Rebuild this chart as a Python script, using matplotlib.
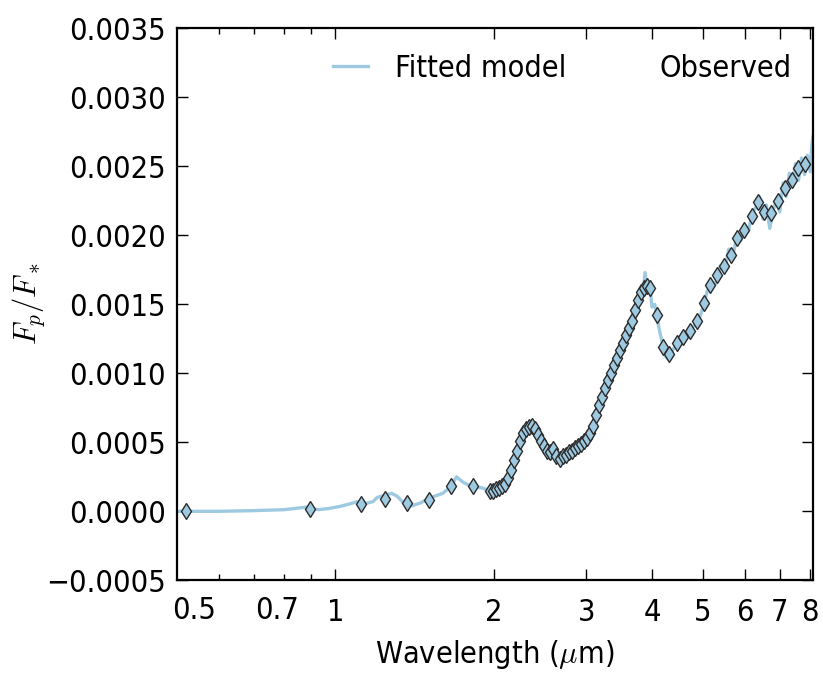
import numpy as np
import matplotlib
matplotlib.use('Agg')
import matplotlib.pyplot as plt
from matplotlib.lines import Line2D
from matplotlib.ticker import FixedLocator, NullFormatter, FuncFormatter
from matplotlib import transforms

plt.rcParams['font.family'] = ['DejaVu Sans']
plt.rcParams['font.stretch'] = 'condensed'
plt.rcParams['mathtext.fontset'] = 'cm'

# Fitted model spectrum (wavelength in micron, planet/star flux ratio)
model_wl = [0.50, 0.55, 0.60, 0.70, 0.80, 0.88, 0.90, 0.93, 0.97, 1.02, 1.08, 1.10,
            1.12, 1.18, 1.20, 1.25, 1.28, 1.31, 1.35, 1.40, 1.45, 1.52, 1.60, 1.66,
            1.70, 1.75, 1.82, 1.90, 1.97, 2.02, 2.07, 2.10, 2.13, 2.16, 2.19, 2.22,
            2.25, 2.28, 2.31, 2.34, 2.37, 2.40, 2.43, 2.46, 2.50, 2.53, 2.56, 2.60,
            2.63, 2.67, 2.71, 2.75, 2.80, 2.85, 2.90, 2.95, 3.00, 3.05, 3.10, 3.15,
            3.20, 3.25, 3.30, 3.35, 3.40, 3.45, 3.50, 3.55, 3.60, 3.65, 3.70, 3.75,
            3.80, 3.85, 3.88, 3.92, 3.96, 4.00, 4.05, 4.10, 4.15, 4.20, 4.25, 4.30,
            4.35, 4.40, 4.50, 4.60, 4.70, 4.80, 4.90, 5.00, 5.10, 5.20, 5.30, 5.40,
            5.50, 5.60, 5.70, 5.80, 5.90, 6.00, 6.10, 6.20, 6.30, 6.40, 6.50, 6.60,
            6.70, 6.80, 6.90, 7.00, 7.10, 7.20, 7.30, 7.40, 7.50, 7.60, 7.70, 7.80,
            7.90, 8.00, 8.05, 8.10]
model_fp = [0.0, 0.0, 0.0, 0.000005, 0.000012, 0.00003, 0.00002, 0.000012, 0.00002,
            0.000035, 0.00006, 0.00007, 0.00005, 0.00007, 0.0001, 0.00012, 0.00013,
            0.00011, 0.00006, 0.00004, 0.00006, 0.0001, 0.00013, 0.00018, 0.00025,
            0.00021, 0.00018, 0.00017, 0.00015, 0.00016, 0.00018, 0.00019, 0.00025,
            0.0003, 0.00038, 0.00045, 0.00053, 0.00058, 0.00062, 0.0006, 0.00064,
            0.00058, 0.00053, 0.0005, 0.00046, 0.00042, 0.00045, 0.0004, 0.00043,
            0.00036, 0.00041, 0.00041, 0.00044, 0.00046, 0.00047, 0.0005, 0.00052,
            0.00058, 0.00065, 0.00075, 0.0008, 0.0009, 0.00094, 0.001, 0.00108,
            0.0011, 0.0012, 0.00124, 0.00133, 0.00134, 0.00147, 0.0015, 0.0016,
            0.00158, 0.00173, 0.00158, 0.00165, 0.00148, 0.0015, 0.00138, 0.00128,
            0.0012, 0.00112, 0.0011, 0.00115, 0.00118, 0.00123, 0.00127, 0.0013,
            0.00134, 0.00137, 0.00148, 0.0016, 0.00166, 0.00165, 0.00178, 0.00175,
            0.0019, 0.00185, 0.00199, 0.00196, 0.00207, 0.00203, 0.00216, 0.0022,
            0.00228, 0.00212, 0.00222, 0.00205, 0.00218, 0.00226, 0.00217, 0.00238,
            0.00228, 0.00245, 0.00235, 0.00252, 0.0024, 0.00256, 0.00244, 0.00258,
            0.00246, 0.00265, 0.00272]

# Observed eclipse depths
obs_wl = [0.520, 0.896, 1.121, 1.245, 1.371, 1.504, 1.656, 1.824,
          1.965, 1.991, 2.018, 2.044, 2.071, 2.098, 2.126, 2.154, 2.183, 2.212,
          2.241, 2.270, 2.300, 2.331, 2.362, 2.393, 2.425, 2.457, 2.489, 2.522,
          2.556, 2.590, 2.624, 2.671, 2.706, 2.742, 2.779, 2.815, 2.853, 2.891,
          2.929, 2.968, 3.007, 3.047, 3.087, 3.128, 3.170, 3.212, 3.254, 3.297,
          3.341, 3.385, 3.430, 3.475, 3.521, 3.568, 3.615, 3.663, 3.711, 3.760,
          3.810, 3.861, 3.912, 3.963, 4.087, 4.197, 4.308, 4.462, 4.581, 4.724,
          4.872, 5.023, 5.157, 5.317, 5.483, 5.654, 5.805, 5.985, 6.200, 6.365,
          6.535, 6.740, 6.950, 7.167, 7.389, 7.586, 7.823]
obs_fp = [0.0, 0.00002, 0.00005, 0.00009, 0.00006, 0.00008, 0.00018, 0.00018,
          0.00015, 0.00015, 0.00016, 0.00017, 0.00018, 0.0002, 0.00024, 0.0003,
          0.00037, 0.00044, 0.00051, 0.00057, 0.0006, 0.00061, 0.00062, 0.0006,
          0.00055, 0.00051, 0.00047, 0.00044, 0.00043, 0.00045, 0.0004, 0.00038,
          0.0004, 0.00041, 0.00043, 0.00044, 0.00046, 0.00047, 0.00049, 0.00051,
          0.00053, 0.00057, 0.00062, 0.0007, 0.00077, 0.00083, 0.00089, 0.00095,
          0.001, 0.00106, 0.00111, 0.00117, 0.00122, 0.00128, 0.00133, 0.00138,
          0.00146, 0.00153, 0.00159, 0.00162, 0.00163, 0.00162, 0.00142, 0.00119,
          0.00114, 0.00122, 0.00126, 0.00131, 0.00138, 0.00151, 0.00164, 0.00171,
          0.00178, 0.00186, 0.00198, 0.00204, 0.00214, 0.00224, 0.00217, 0.00216,
          0.00225, 0.00234, 0.0024, 0.00249, 0.00252]

major_ticks = [1, 2, 3, 4, 5, 6, 7, 8]
minor_ticks = [0.6, 0.7, 0.8, 0.9]
y_ticks = np.arange(-0.0005, 0.00351, 0.0005)

fig = plt.figure(figsize=(8.23, 6.74), dpi=100)
ax = fig.add_axes([0.215, 0.139, 0.773, 0.819])

line_model, = ax.plot(model_wl, model_fp, color='#9ecae1', lw=2.4, zorder=2)
ax.plot(obs_wl, obs_fp, linestyle='none', marker='d', ms=8, mfc='#9ecae1',
        mec='#2b2b2b', mew=1.0, zorder=3)

ax.set_xscale('log')
ax.set_xlim(0.5, 8.1)
ax.set_ylim(-0.0005, 0.0035)

ax.xaxis.set_major_locator(FixedLocator(major_ticks))
ax.xaxis.set_major_formatter(FuncFormatter(lambda v, p: '%d' % v))
ax.xaxis.set_minor_locator(FixedLocator(minor_ticks))
ax.xaxis.set_minor_formatter(NullFormatter())
ax.set_yticks(y_ticks)
ax.yaxis.set_major_formatter(FuncFormatter(lambda v, p: ('%.4f' % v).replace('-', '\u2212')))

ax.tick_params(which='both', direction='in', top=True, right=True, labelsize=22)
ax.tick_params(axis='x', pad=13)
ax.tick_params(axis='y', pad=8)
ax.tick_params(which='major', length=8, width=1)
ax.tick_params(which='minor', length=4, width=1)
for s in ax.spines.values():
    s.set_linewidth(1.6)

# sub-micron labels sit below the minor ticks
trans = transforms.blended_transform_factory(ax.transData, ax.transAxes)
for val, txt in [(0.54, '0.5'), (0.775, '0.7')]:
    ax.text(val, -0.028, txt, transform=trans, ha='center', va='top', fontsize=22)

ax.set_xlabel(r'Wavelength ($\mu$m)', fontsize=22, labelpad=8)
ax.set_ylabel(r'$\boldsymbol{F_p/F_*}$', fontsize=22)
ax.yaxis.set_label_coords(-0.205, 0.5)

blank = Line2D([], [], linestyle='none')
ax.legend([line_model, blank], ['Fitted model', 'Observed'], loc='upper right',
          bbox_to_anchor=(1.01, 1.003), ncol=2, frameon=False, fontsize=22,
          handlelength=1.15, handletextpad=0.9, columnspacing=1.0)

fig.savefig('out.png', dpi=100)
